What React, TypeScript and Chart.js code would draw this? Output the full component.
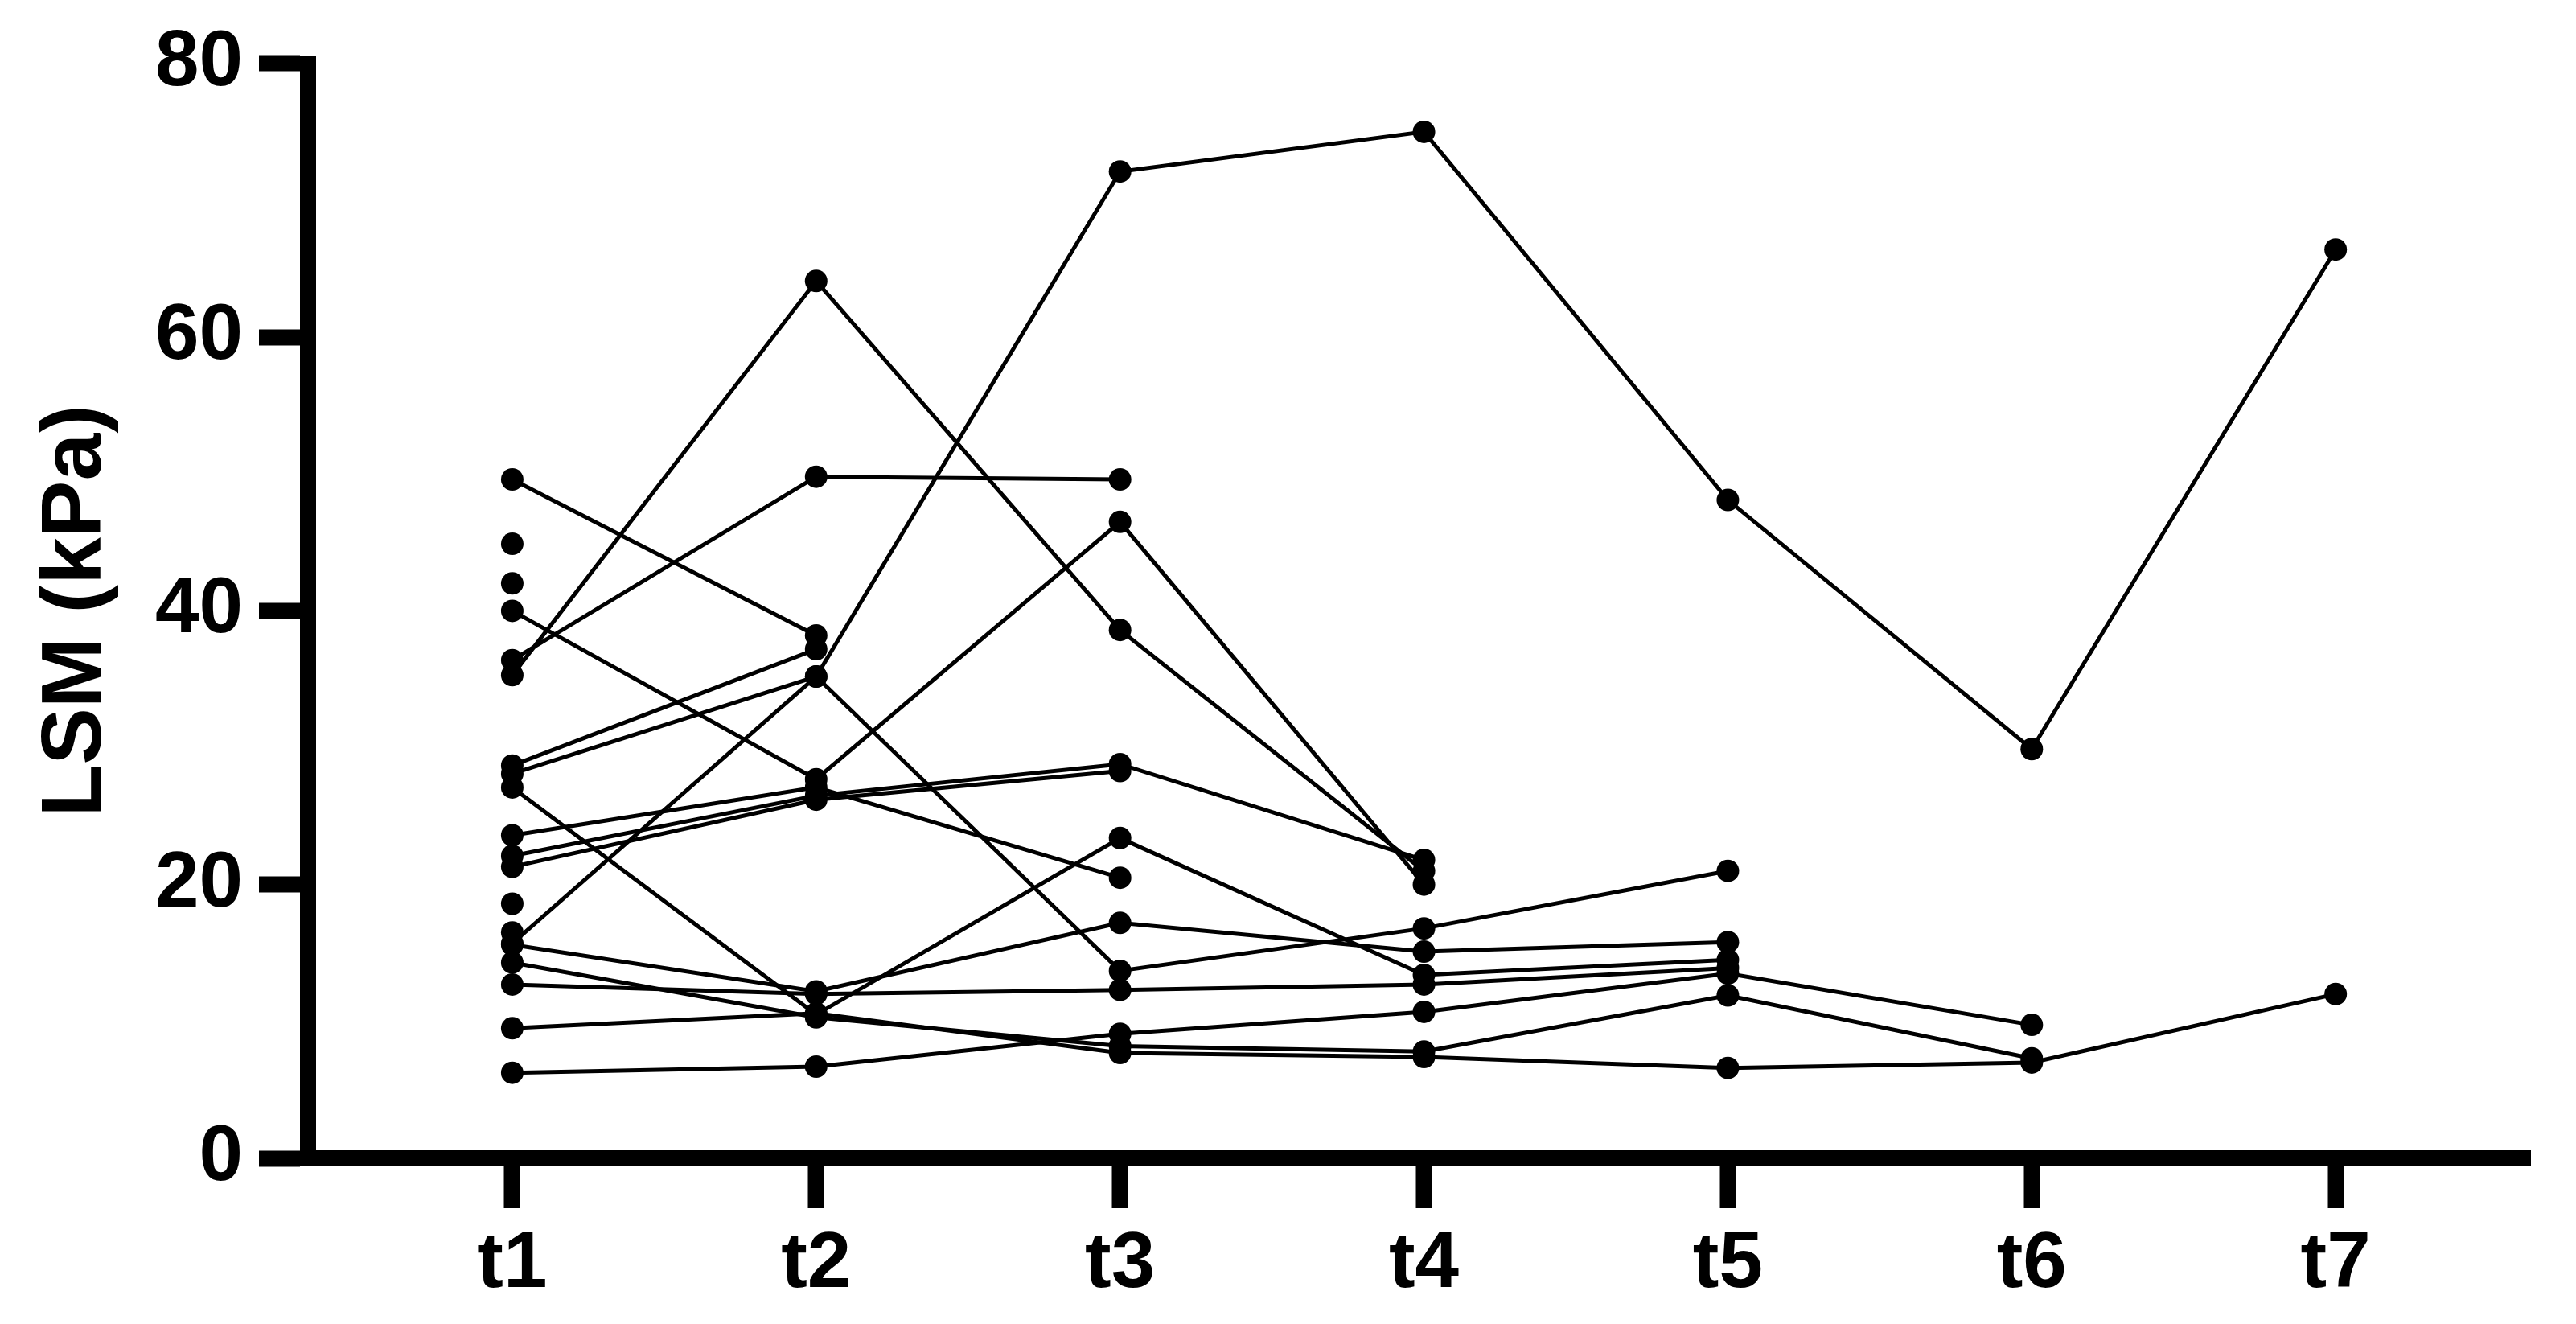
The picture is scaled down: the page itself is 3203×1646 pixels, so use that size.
import { useEffect, useRef } from 'react';
import { Chart, registerables } from 'chart.js';

Chart.register(...registerables);

// time points on the x axis
const timePoints = ['t1', 't2', 't3', 't4', 't5', 't6', 't7'];
const yTicks = [0, 20, 40, 60, 80];

// LSM (kPa) per patient, one value per visit
const p01 = [49.6, 38.2];
const p02 = [28.7, 37.2];
const p03 = [28.1, 35.2, 13.7, 16.8, 21.0];
const p04 = [15.7, 35.2, 72.1, 75.0, 48.1, 29.9, 66.4];
const p05 = [36.4, 49.8, 49.6];
const p06 = [35.3, 64.1, 38.6, 21.0];
const p07 = [40.0, 27.7, 46.5, 20.0];
const p08 = [23.6, 27.1, 20.5];
const p09 = [22.1, 26.5, 28.8, 21.8];
const p10 = [21.3, 26.2, 28.3];
const p11 = [27.1, 10.5, 23.4, 13.4, 14.5];
const p12 = [15.6, 12.2, 17.2, 15.1, 15.8];
const p13 = [14.3, 10.3, 8.2, 7.8, 11.9, 7.3];
const p14 = [12.7, 12.0, 12.3, 12.7, 13.9];
const p15 = [9.5, 10.6, 7.7, 7.4, 6.6, 7.0, 12.0];
const p16 = [6.25, 6.7, 9.1, 10.7, 13.5, 9.75];
const p17 = [44.9];
const p18 = [42.0];
const p19 = [18.6];
const p20 = [16.5];

const patients = [
  p01, p02, p03, p04, p05, p06, p07, p08, p09, p10,
  p11, p12, p13, p14, p15, p16, p17, p18, p19, p20,
];

const FONT = 'Arial, "Liberation Sans", Helvetica, sans-serif';

export default function App() {
  const canvasRef = useRef<HTMLCanvasElement>(null);

  useEffect(() => {
    document.body.style.margin = '0';
    document.body.style.overflow = 'hidden';
    if (!canvasRef.current) return;
    const ctx = canvasRef.current.getContext('2d');
    if (!ctx) return;

    const chart = new Chart(ctx, {
      type: 'line',
      data: {
        datasets: patients.map((values, i) => ({
          label: `Patient ${i + 1}`,
          data: values.map((v, j) => ({ x: j + 1, y: v })),
          borderColor: '#000',
          backgroundColor: '#000',
          borderWidth: 5,
          pointRadius: 14,
          pointBackgroundColor: '#000',
          pointBorderColor: '#000',
          pointBorderWidth: 0,
          tension: 0,
          fill: false,
        })),
      },
      options: {
        animation: false,
        responsive: false,
        devicePixelRatio: 1,
        layout: { padding: { top: 72, right: 57, bottom: 0, left: 0 } },
        plugins: {
          legend: { display: false },
          tooltip: { enabled: false },
        },
        scales: {
          x: {
            type: 'linear',
            min: 0.328,
            max: 7.64,
            afterBuildTicks: (scale: any) => {
              scale.ticks = timePoints.map((_, i) => ({ value: i + 1 }));
            },
            afterFit: (scale: any) => {
              scale.height = 206;
            },
            ticks: {
              autoSkip: false,
              maxRotation: 0,
              padding: 12,
              color: '#000',
              font: { family: FONT, size: 98, weight: 'bold' },
              callback: (value: any) => timePoints[Number(value) - 1] ?? '',
            },
            grid: {
              drawOnChartArea: false,
              drawTicks: true,
              tickLength: 62,
              tickWidth: 20,
              tickColor: '#000',
            },
            border: { display: true, color: '#000', width: 20 },
          },
          y: {
            min: 0,
            max: 80,
            afterBuildTicks: (scale: any) => {
              scale.ticks = yTicks.map((v) => ({ value: v }));
            },
            afterFit: (scale: any) => {
              scale.width = 383;
            },
            ticks: {
              padding: 20,
              color: '#000',
              font: { family: FONT, size: 98, weight: 'bold' },
            },
            grid: {
              drawOnChartArea: false,
              drawTicks: true,
              tickLength: 61,
              tickWidth: 20,
              tickColor: '#000',
            },
            border: { display: true, color: '#000', width: 20 },
            title: {
              display: true,
              text: 'LSM (kPa)',
              color: '#000',
              font: { family: FONT, size: 106, weight: 'bold' },
              padding: { top: 32, bottom: 0 },
            },
          },
        },
      },
    });

    return () => {
      chart.destroy();
    };
  }, []);

  return (
    <canvas
      ref={canvasRef}
      width={3203}
      height={1646}
      style={{ display: 'block' }}
    ></canvas>
  );
}
